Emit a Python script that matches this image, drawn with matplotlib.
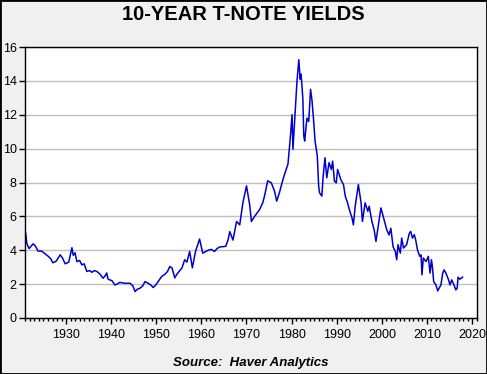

import numpy as np
import matplotlib
matplotlib.use("Agg")
import matplotlib.pyplot as plt
from matplotlib.ticker import MultipleLocator

# approximate readings: decimal year, yield in percent
years = [
    1920.9, 1921.1, 1921.3, 1921.8, 1922.7, 1923.2, 1923.8, 1924.6, 1925.3,
    1926.1, 1926.6, 1927.1, 1927.8, 1928.7, 1929.2, 1929.8, 1930.6, 1931.3,
    1931.6, 1932.0, 1932.4, 1933.0, 1933.5, 1934.0, 1934.6, 1935.2, 1935.7,
    1936.3, 1936.8, 1937.5, 1938.2, 1938.7, 1939.0, 1939.3, 1939.7, 1940.2,
    1940.8, 1941.3, 1941.9, 1943.0, 1944.2, 1944.8, 1945.3, 1945.8, 1946.4,
    1947.0, 1947.5, 1948.2, 1948.8, 1949.3, 1949.9, 1950.4, 1951.2, 1952.0,
    1952.5, 1953.0, 1953.5, 1954.1, 1954.6, 1955.2, 1955.7, 1956.3, 1956.8,
    1957.4, 1958.0, 1958.7, 1959.6, 1960.3, 1960.8, 1961.5, 1962.2, 1962.9,
    1963.5, 1964.0, 1965.4, 1965.9, 1966.3, 1967.0, 1967.8, 1968.5, 1969.2,
    1970.0, 1970.7, 1971.1, 1971.8, 1972.9, 1973.6, 1974.0, 1974.7, 1975.5,
    1976.2, 1976.7, 1977.3, 1978.1, 1978.7, 1979.2, 1979.7, 1980.1, 1980.3,
    1980.9, 1981.2, 1981.6, 1981.9, 1982.1, 1982.3, 1982.5, 1982.7, 1982.9,
    1983.4, 1983.8, 1984.2, 1984.5, 1984.9, 1985.2, 1985.7, 1986.0, 1986.2,
    1986.7, 1987.0, 1987.4, 1987.8, 1988.3, 1988.8, 1989.1, 1989.5, 1989.9,
    1990.2, 1990.9, 1991.5, 1991.9, 1992.4, 1992.8, 1993.4, 1993.7, 1994.1,
    1994.8, 1995.4, 1995.7, 1996.3, 1996.9, 1997.2, 1997.8, 1998.3, 1998.7,
    1999.3, 1999.8, 2000.2, 2000.5, 2001.1, 2001.6, 2002.0, 2002.5, 2003.0,
    2003.3, 2003.6, 2004.1, 2004.4, 2004.8, 2005.5, 2006.1, 2006.4, 2006.8,
    2007.2, 2007.5, 2007.9, 2008.4, 2008.7, 2008.9, 2009.2, 2009.8, 2010.3,
    2010.7, 2011.0, 2011.2, 2011.5, 2012.0, 2012.4, 2012.7, 2013.1, 2013.5,
    2013.8, 2014.2, 2014.8, 2015.1, 2015.5, 2016.0, 2016.4, 2016.7, 2016.9,
    2017.3, 2017.9,
]
yields = [
    5.20, 4.90, 4.40, 4.10, 4.38, 4.25, 3.95, 3.95, 3.80,
    3.63, 3.50, 3.26, 3.35, 3.73, 3.55, 3.20, 3.30, 4.15,
    3.70, 3.85, 3.33, 3.40, 3.14, 3.20, 2.75, 2.80, 2.70,
    2.80, 2.75, 2.60, 2.35, 2.50, 2.66, 2.30, 2.25, 2.20,
    1.95, 2.00, 2.10, 2.05, 2.05, 1.90, 1.56, 1.70, 1.76,
    1.90, 2.15, 2.05, 1.95, 1.80, 1.95, 2.15, 2.45, 2.60,
    2.75, 3.04, 2.95, 2.37, 2.60, 2.80, 2.96, 3.44, 3.30,
    3.93, 2.96, 3.93, 4.66, 3.83, 3.90, 4.00, 4.05, 3.93,
    4.10, 4.19, 4.23, 4.60, 5.10, 4.60, 5.70, 5.50, 6.80,
    7.80, 6.70, 5.70, 6.00, 6.40, 6.80, 7.20, 8.10, 7.98,
    7.50, 6.90, 7.40, 8.20, 8.70, 9.10, 10.60, 12.00, 9.96,
    12.70, 14.00, 15.25, 14.10, 14.40, 13.70, 12.90, 10.75, 10.45,
    11.80, 11.60, 13.50, 12.90, 11.60, 10.45, 9.56, 7.78, 7.39,
    7.20, 8.37, 9.46, 8.28, 9.17, 8.77, 9.26, 8.08, 7.98,
    8.77, 8.18, 7.88, 7.19, 6.80, 6.40, 5.90, 5.50, 6.60,
    7.88, 6.80, 5.70, 6.80, 6.30, 6.60, 5.70, 5.21, 4.52,
    5.60, 6.50, 6.10, 5.80, 5.20, 4.90, 5.30, 4.20, 3.93,
    3.44, 4.33, 3.83, 4.72, 4.13, 4.33, 5.00, 5.11, 4.72,
    4.92, 4.62, 4.03, 3.64, 3.73, 2.55, 3.54, 3.33, 3.64,
    2.65, 3.44, 3.04, 2.15, 1.95, 1.60, 1.76, 1.95, 2.65,
    2.84, 2.65, 2.25, 1.95, 2.25, 1.95, 1.66, 1.76, 2.41,
    2.29, 2.41,
]
x_ticks = [1930, 1940, 1950, 1960, 1970, 1980, 1990, 2000, 2010, 2020]
y_ticks = [0, 2, 4, 6, 8, 10, 12, 14, 16]

plt.rcParams["font.family"] = ["Liberation Sans", "DejaVu Sans"]

fig = plt.figure(figsize=(4.87, 3.74), dpi=100, facecolor="#f0f0f0")
ax = fig.add_axes([25 / 487, 56 / 374, 452 / 487, 271 / 374])
ax.set_facecolor("white")

ax.plot(years, yields, color="#0000cc", lw=1.1)

ax.set_xlim(1920.9, 2021.1)
ax.set_ylim(0, 16)
ax.set_xticks(x_ticks)
ax.set_yticks(y_ticks)
ax.xaxis.set_minor_locator(MultipleLocator(1))
ax.tick_params(axis="both", which="major", direction="out", length=4,
               width=1, labelsize=9, colors="black")
ax.tick_params(axis="x", which="major", pad=4)
ax.tick_params(axis="y", which="major", pad=2)
ax.tick_params(axis="x", which="minor", direction="out", length=2, width=1)
ax.grid(True, axis="y", color="#c0c0c0", lw=1)
ax.set_axisbelow(True)
for sp in ax.spines.values():
    sp.set_color("black")
    sp.set_linewidth(1)

fig.text(0.5, 1 - 14 / 374, "10-YEAR T-NOTE YIELDS", ha="center",
         va="center", fontsize=14.5, fontweight="bold")
fig.text(251 / 487, 1 - 363 / 374, "Source:  Haver Analytics", ha="center",
         va="center", fontsize=9.5, fontweight="bold", style="italic")

# outer frame round the whole picture
fig.add_artist(plt.Rectangle((0, 0), 1, 1, transform=fig.transFigure,
                             fill=False, ec="black", lw=2))

fig.savefig("out.png", dpi=100, facecolor=fig.get_facecolor())
